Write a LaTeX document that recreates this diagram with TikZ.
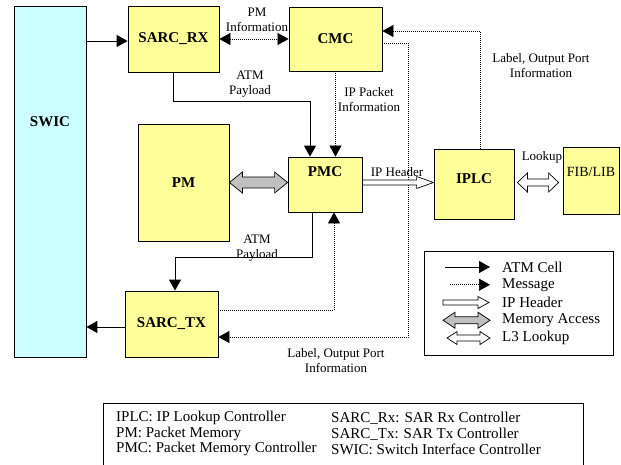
\documentclass[tikz,border=0pt]{standalone}
\usepackage{fontspec}
\setmainfont{Liberation Serif}
\usetikzlibrary{arrows.meta,calc}

\definecolor{boxyellow}{HTML}{FFFF99}
\definecolor{swiccyan}{HTML}{CCFFFF}
\definecolor{memgray}{HTML}{C0C0C0}

% wide arrows: style, from, to, half shaft, half head, head length
\newcommand{\fatone}[6]{%
  \draw[#1] let \p1=#2, \p2=#3 in
    (\x1,\y1+#4) -- (\x2-#6,\y1+#4) -- (\x2-#6,\y1+#5) -- (\x2,\y1)
    -- (\x2-#6,\y1-#5) -- (\x2-#6,\y1-#4) -- (\x1,\y1-#4) -- cycle;}
\newcommand{\fattwo}[6]{%
  \draw[#1] let \p1=#2, \p2=#3 in
    (\x1,\y1) -- (\x1+#6,\y1+#5) -- (\x1+#6,\y1+#4) -- (\x2-#6,\y1+#4)
    -- (\x2-#6,\y1+#5) -- (\x2,\y1) -- (\x2-#6,\y1-#5) -- (\x2-#6,\y1-#4)
    -- (\x1+#6,\y1-#4) -- (\x1+#6,\y1-#5) -- cycle;}

\begin{document}
\begin{tikzpicture}[x=1pt, y=-1pt, >={Triangle[length=11pt,width=12pt]},
    unit/.style={draw, line width=0.8pt, fill=boxyellow, inner sep=0pt,
      font=\fontsize{15}{17}\selectfont\bfseries},
    cell/.style={line width=0.9pt, ->},
    msg/.style={line width=0.7pt, dash pattern=on 0.8pt off 1.2pt, ->},
    lbl/.style={font=\fontsize{13}{15}\selectfont, align=center, inner sep=0pt},
    legtext/.style={font=\fontsize{15}{17}\selectfont, anchor=west, inner sep=0pt},
    note/.style={font=\fontsize{15}{16}\selectfont, anchor=west, inner sep=0pt},
    hdr/.style={draw, line width=0.7pt, fill=white},
    mem/.style={draw, line width=0.7pt, fill=memgray}]
    \useasboundingbox (0,0) rectangle (621,465);

    % Blocks
    \node[unit, fill=swiccyan, minimum width=72, minimum height=351,
      label={[font=\fontsize{15}{17}\selectfont\bfseries, yshift=59.5pt]center:SWIC}] (SWIC) at (50,181.5) {};
    \node[unit, minimum width=91, minimum height=66] (SARCRX) at (173.5,39) {SARC\_RX};
    \node[unit, minimum width=93, minimum height=64] (CMC) at (335.5,39) {CMC};
    \node[unit, minimum width=91, minimum height=117] (PM) at (183.5,182.5) {PM};
    \node[unit, minimum width=74, minimum height=55,
      label={[font=\fontsize{15}{17}\selectfont\bfseries, yshift=12.5pt]center:PMC}] (PMC) at (325,184.5) {};
    \node[unit, minimum width=80, minimum height=70,
      label={[font=\fontsize{15}{17}\selectfont\bfseries, yshift=5pt]center:IPLC}] (IPLC) at (474,184) {};
    \node[unit, minimum width=56, minimum height=67,
      label={[font=\fontsize{14}{16}\selectfont, yshift=8.5pt]center:FIB/LIB}] (FIB) at (591,180.5) {};
    \node[unit, minimum width=93, minimum height=66] (SARCTX) at (171.5,324) {SARC\_TX};

    % ATM cells
    \draw[cell] ([yshift=-2pt]SARCRX.west -| SWIC.east) -- ([yshift=-2pt]SARCRX.west);
    \draw[cell] (SARCRX.south) -- ++(0,29) -| ([xshift=-15pt]PMC.north);
    \draw[cell] ([xshift=-13pt]PMC.south) -- ++(0,45) -| ([xshift=3.5pt]SARCTX.north);
    \draw[cell] ([yshift=-3pt]SARCTX.west) -- ([yshift=-3pt]SARCTX.west -| SWIC.east);

    % messages
    \draw[msg, <->] (SARCRX.east) -- (CMC.west);
    \draw[msg] (CMC.south) -- (CMC.south |- PMC.north);
    \draw[msg] ([xshift=6pt]IPLC.north) |- ([yshift=8pt]CMC.east);
    \draw[msg] ([yshift=-4pt]CMC.east) -- ++(26,0) |- ([yshift=-13pt]SARCTX.east);
    \draw[msg] ([yshift=14pt]SARCTX.east) -| ([xshift=9pt]PMC.south);

    % wide arrows
    \fattwo{mem}{(PM.east)}{(PMC.west)}{5.5pt}{10.5pt}{13pt}
    \fatone{hdr}{([yshift=2pt]PMC.east)}{(IPLC.west)}{2.5pt}{6pt}{17pt}
    \fattwo{hdr}{([xshift=3pt,yshift=1.5pt]IPLC.east)}{([xshift=-4pt]FIB.west)}{3.5pt}{9.5pt}{10pt}

    % labels
    \node[lbl] (pminfo) at (257,19.5) {PM\\Information};
    \node[lbl] (rxpay) at (250,84) {ATM\\Payload};
    \node[lbl] (pktinfo) at (369,99.5) {IP Packet\\Information};
    \node[lbl] (cmcinfo) at (541,65.5) {Label, Output Port\\Information};
    \node[lbl] (hdrlbl) at (397,172) {IP Header};
    \node[lbl] (lookuplbl) at (542,157) {Lookup};
    \node[lbl] (txpay) at (257,248.5) {ATM\\Payload};
    \node[lbl] (txinfo) at (336,360.5) {Label, Output Port\\Information};

    % legend
    \node[draw, line width=0.8pt, minimum width=189, minimum height=104, inner sep=0pt] (legend) at (518.5,303) {};
    \foreach \t [count=\i] in {ATM Cell, Message, IP Header, Memory Access, L3 Lookup}
        \node[legtext] (key\i) at (502,249.25+17.75*\i) {\t};
    \draw[cell] ([xshift=-57pt]key1.west) -- ([xshift=-12pt]key1.west);
    \draw[msg] ([xshift=-52pt]key2.west) -- ([xshift=-12pt]key2.west);
    \fatone{hdr}{([xshift=-59pt]key3.west)}{([xshift=-13pt]key3.west)}{2.5pt}{6pt}{11pt}
    \fattwo{mem}{([xshift=-59pt]key4.west)}{([xshift=-12pt]key4.west)}{3.5pt}{8pt}{12pt}
    \fattwo{hdr}{([xshift=-55pt]key5.west)}{([xshift=-12pt]key5.west)}{3pt}{6.5pt}{10pt}

    % abbreviations
    \draw[line width=0.8pt] (103,466) |- (583,403) -- (583,466);
    \node[note] (n1) at (116,418) {IPLC: IP Lookup Controller};
    \node[note] (n2) at (116,434) {PM: Packet Memory};
    \node[note] (n3) at (116,449) {PMC: Packet Memory Controller};
    \node[note] (n4) at (331,418) {SARC\_Rx: SAR Rx Controller};
    \node[note] (n5) at (331,434) {SARC\_Tx: SAR Tx Controller};
    \node[note] (n6) at (331,449) {SWIC: Switch Interface Controller};
\end{tikzpicture}
\end{document}
